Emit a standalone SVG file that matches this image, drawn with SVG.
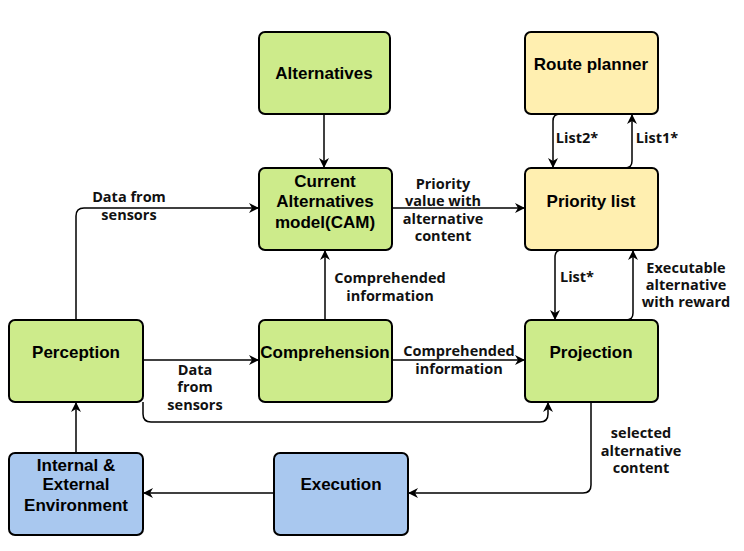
<svg xmlns="http://www.w3.org/2000/svg" width="744" height="551" viewBox="0 0 744 551">
<defs>
<style>
.box{stroke:#000;stroke-width:2}
.g{fill:#cdeb8b}
.y{fill:#ffefb0}
.b{fill:#a9c8ef}
.nt{font-family:"Liberation Sans",Arial,sans-serif;font-weight:bold;font-size:17px;fill:#000;text-anchor:middle}
.et{font-family:"Open Sans","Noto Sans",sans-serif;font-weight:bold;font-size:14.5px;fill:#111;text-anchor:middle}
.c{fill:none;stroke:#000;stroke-width:1.5}
</style>
<marker id="ah" viewBox="0 0 10 10" refX="9" refY="5" markerWidth="10" markerHeight="10" markerUnits="userSpaceOnUse" orient="auto">
<path d="M0,0 L10,5 L0,10 L3,5 Z" fill="#000"/>
</marker>
</defs>
<rect width="744" height="551" fill="#fff"/>

<g id="connectors">
<path class="c" d="M324,114 V167" marker-end="url(#ah)"/>
<path class="c" d="M76,320 V216 Q76,208 84,208 H258" marker-end="url(#ah)"/>
<path class="c" d="M143,360 H258" marker-end="url(#ah)"/>
<path class="c" d="M143,402 V414 Q143,422 151,422 H540 Q548,422 548,414 V403" marker-end="url(#ah)"/>
<path class="c" d="M325,320 V251" marker-end="url(#ah)"/>
<path class="c" d="M392,360 H524" marker-end="url(#ah)"/>
<path class="c" d="M392,208 H524" marker-end="url(#ah)"/>
<path class="c" d="M560,114 Q553,114 553,121 V167" marker-end="url(#ah)"/>
<path class="c" d="M625,168 Q632,168 632,161 V115" marker-end="url(#ah)"/>
<path class="c" d="M562,250 Q555,250 555,257 V319" marker-end="url(#ah)"/>
<path class="c" d="M626,320 Q633,320 633,313 V251" marker-end="url(#ah)"/>
<path class="c" d="M591,402 V485 Q591,493 583,493 H409" marker-end="url(#ah)"/>
<path class="c" d="M274,493 H144" marker-end="url(#ah)"/>
<path class="c" d="M76,453 V403" marker-end="url(#ah)"/>
<text class="et" x="129" y="202">Data from</text>
<text class="et" x="129" y="220">sensors</text>
<text class="et" x="195" y="375">Data</text>
<text class="et" x="195" y="392">from</text>
<text class="et" x="195" y="410">sensors</text>
<text class="et" x="390" y="283">Comprehended</text>
<text class="et" x="390" y="301">information</text>
<text class="et" x="459" y="356">Comprehended</text>
<text class="et" x="459" y="374">information</text>
<text class="et" x="443" y="189">Priority</text>
<text class="et" x="443" y="206">value with</text>
<text class="et" x="443" y="224">alternative</text>
<text class="et" x="443" y="241">content</text>
<text class="et" x="577" y="143">List2*</text>
<text class="et" x="657" y="143">List1*</text>
<text class="et" x="577" y="282">List*</text>
<text class="et" x="686" y="273">Executable</text>
<text class="et" x="686" y="290">alternative</text>
<text class="et" x="686" y="307">with reward</text>
<text class="et" x="641" y="438">selected</text>
<text class="et" x="641" y="456">alternative</text>
<text class="et" x="641" y="473">content</text>
</g>

<g id="alternatives">
<rect class="box g" x="259" y="32" width="131" height="82" rx="6"/>
<text class="nt" x="324" y="79">Alternatives</text>
</g>
<g id="route-planner">
<rect class="box y" x="525" y="32" width="133" height="82" rx="6"/>
<text class="nt" x="591" y="70">Route planner</text>
</g>
<g id="cam">
<rect class="box g" x="259" y="168" width="133" height="82" rx="6"/>
<text class="nt" x="325" y="187">Current</text>
<text class="nt" x="325" y="207">Alternatives</text>
<text class="nt" x="325" y="228">model(CAM)</text>
</g>
<g id="priority-list">
<rect class="box y" x="525" y="168" width="133" height="82" rx="6"/>
<text class="nt" x="591" y="207">Priority list</text>
</g>
<g id="perception">
<rect class="box g" x="9" y="320" width="134" height="82" rx="6"/>
<text class="nt" x="76" y="358">Perception</text>
</g>
<g id="comprehension">
<rect class="box g" x="259" y="320" width="133" height="82" rx="6"/>
<text class="nt" x="325" y="358">Comprehension</text>
</g>
<g id="projection">
<rect class="box g" x="525" y="320" width="133" height="82" rx="6"/>
<text class="nt" x="591" y="358">Projection</text>
</g>
<g id="environment">
<rect class="box b" x="9" y="453" width="134" height="82" rx="6"/>
<text class="nt" x="76" y="471">Internal &amp;</text>
<text class="nt" x="76" y="490">External</text>
<text class="nt" x="76" y="511">Environment</text>
</g>
<g id="execution">
<rect class="box b" x="274" y="453" width="134" height="82" rx="6"/>
<text class="nt" x="341" y="490">Execution</text>
</g>
</svg>
